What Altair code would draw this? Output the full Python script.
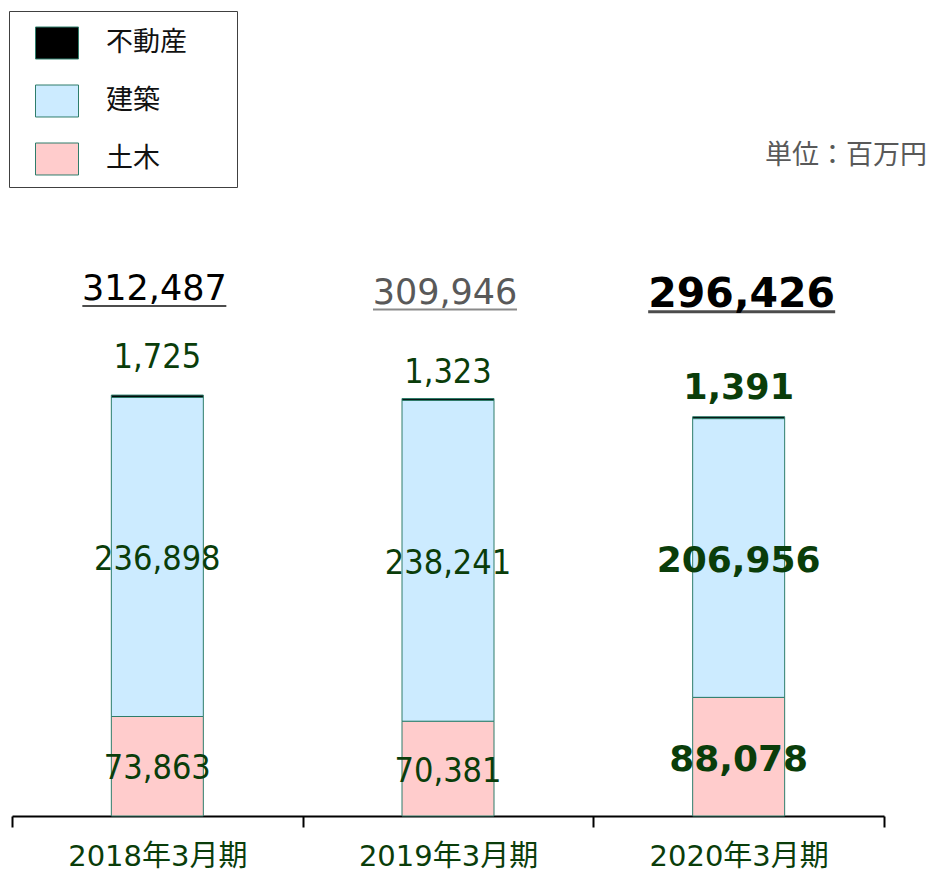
import altair as alt
import pandas as pd

categories = ["2018年3月期", "2019年3月期", "2020年3月期"]
segments = ["不動産", "建築", "土木"]
fudosan = [1725, 1323, 1391]
kenchiku = [236898, 238241, 206956]
doboku = [73863, 70381, 88078]
totals = [312487, 309946, 296426]
unit_text = ["単位：百万円"]

seg_colors = ["#000000", "#CCEBFF", "#FFCCCC"]
EDGE = "#2E7D6B"
GREEN = "#0A3D0A"
LATIN = "DejaVu Sans, Noto Sans CJK JP"
COND = "DejaVu Sans Condensed, DejaVu Sans, Noto Sans CJK JP"
CJK = "Noto Sans CJK JP"

rows = []
for i, c in enumerate(categories):
    for seg, vals, order in [("土木", doboku, 0), ("建築", kenchiku, 1), ("不動産", fudosan, 2)]:
        rows.append({"cat": c, "seg": seg, "value": vals[i], "order": order})
df = pd.DataFrame(rows)
tot = pd.DataFrame({"cat": categories, "total": totals})

xenc = alt.X(
    "cat:N",
    scale=alt.Scale(domain=categories, paddingInner=0, paddingOuter=0),
    axis=alt.Axis(
        title=None, labelAngle=0, labelFont=LATIN, labelFontSize=29,
        labelColor=GREEN, labelPadding=15, labelLimit=400,
        domainColor="#000000", domainWidth=2,
        tickColor="#000000", tickWidth=2, tickSize=11, tickBand="extent",
    ),
)
yscale = alt.Scale(domain=[0, 474400], nice=False)

stacked = (
    alt.Chart(df)
    .transform_stack(stack="value", groupby=["cat"], as_=["y0", "y1"],
                     sort=[alt.SortField("order", "ascending")])
    .transform_calculate(mid="(datum.y0 + datum.y1) / 2",
                         lab="format(datum.value, ',')")
)

bars = stacked.mark_bar(size=92, stroke=EDGE, strokeWidth=1).encode(
    x=xenc,
    y=alt.Y("y1:Q", scale=yscale, axis=None),
    y2="y0:Q",
    color=alt.Color(
        "seg:N",
        scale=alt.Scale(domain=segments, range=seg_colors),
        legend=alt.Legend(
            title=None, orient="none", legendX=-3, legendY=-166,
            symbolType="M-1,-0.744H1V0.744H-1Z", symbolSize=1849,
            symbolStrokeColor=EDGE, symbolStrokeWidth=1, symbolOpacity=1,
            labelFont=CJK, labelFontSize=27, labelColor="#111111",
            labelOffset=27, rowPadding=18, padding=10, symbolOffset=16,
            labelLimit=400,
            strokeColor="#404040", fillColor="#ffffff",
            labelExpr="datum.label + '\u2800\u2800'",
        ),
    ),
)

is2020 = "datum.cat == '2020年3月期'"


def top_label(cat, dy, bold=False):
    return stacked.transform_filter(
        f"datum.seg == '不動産' && datum.cat == '{cat}'"
    ).mark_text(
        font=LATIN if bold else COND, fontSize=35 if bold else 34,
        fontWeight="bold" if bold else "normal", color=GREEN,
        baseline="alphabetic", dy=dy,
    ).encode(x=alt.X("cat:N"), y=alt.Y("y1:Q"), text="lab:N")


mid_reg = stacked.transform_filter(f"datum.seg != '不動産' && !({is2020})").mark_text(
    font=COND, fontSize=34, color=GREEN, baseline="middle", dy=3
).encode(x=alt.X("cat:N"), y=alt.Y("mid:Q"), text="lab:N")

mid_bold = stacked.transform_filter(f"datum.seg != '不動産' && {is2020}").mark_text(
    font=LATIN, fontSize=36, fontWeight="bold", color=GREEN, baseline="middle", dy=3
).encode(x=alt.X("cat:N"), y=alt.Y("mid:Q"), text="lab:N")

top18 = top_label(categories[0], -27)
top19 = top_label(categories[1], -16)
top20 = top_label(categories[2], -18, bold=True)

totc = alt.Chart(tot).transform_calculate(lab="format(datum.total, ',')")
tot_color = alt.condition("datum.cat == '2019年3月期'", alt.value("#595959"), alt.value("#000000"))

tot_reg = totc.transform_filter(f"!({is2020})").mark_text(
    font=LATIN, fontSize=35, baseline="alphabetic", dy=-95, dx=-3
).encode(x=alt.X("cat:N"), y=alt.Y("total:Q"), text="lab:N", color=tot_color)

tot_reg_line = totc.transform_filter(f"!({is2020})").mark_tick(
    size=144, thickness=2, yOffset=-89, xOffset=-3
).encode(x=alt.X("cat:N"), y=alt.Y("total:Q"), color=tot_color)

tot_bold = totc.transform_filter(is2020).mark_text(
    font=LATIN, fontSize=41, fontWeight="bold", color="#000000",
    baseline="alphabetic", dy=-110, dx=3
).encode(x=alt.X("cat:N"), y=alt.Y("total:Q"), text="lab:N")

tot_bold_line = totc.transform_filter(is2020).mark_tick(
    size=187, thickness=3, yOffset=-105, xOffset=3, color="#000000"
).encode(x=alt.X("cat:N"), y=alt.Y("total:Q"))

unit = alt.Chart(pd.DataFrame({"t": unit_text})).mark_text(
    font=CJK, fontSize=27, color="#595959", align="right", baseline="alphabetic"
).encode(x=alt.value(915), y=alt.value(-13), text="t:N")

chart = (
    alt.layer(bars, mid_reg, mid_bold, top18, top19, top20,
              tot_reg, tot_reg_line, tot_bold, tot_bold_line, unit)
    .properties(
        width=872, height=639,
        autosize=alt.AutoSizeParams(type="none"),
        padding={"left": 4, "top": 169, "right": 44, "bottom": 57},
    )
    .configure_view(stroke=None)
)

chart.save("out.html", embed_options={"renderer": "svg", "actions": False})
